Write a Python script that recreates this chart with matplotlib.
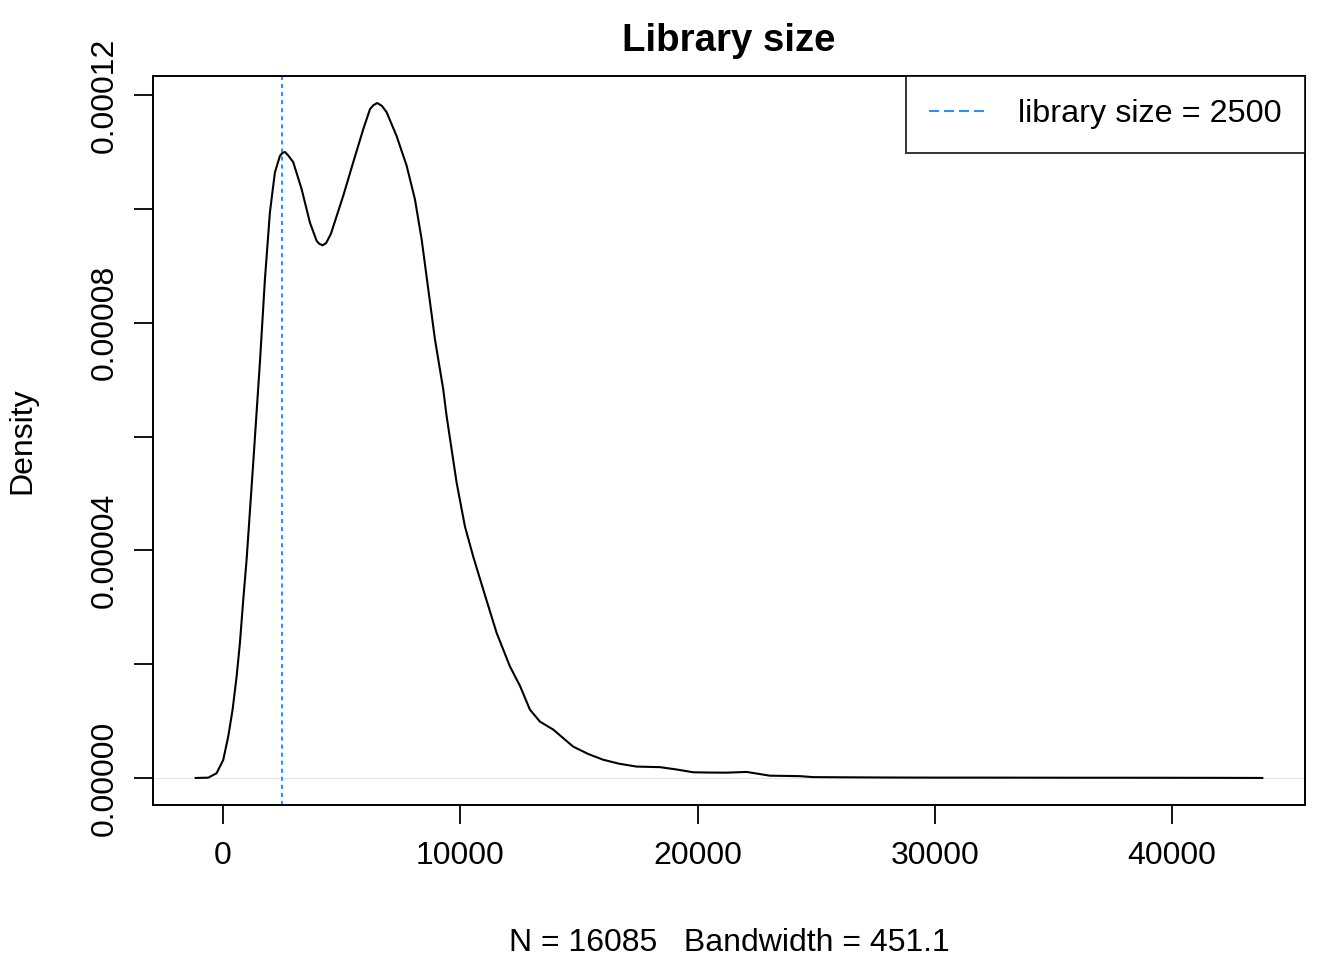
import numpy as np
import matplotlib
matplotlib.use("Agg")
import matplotlib.pyplot as plt
from matplotlib.lines import Line2D

plt.rcParams['font.family'] = ['Liberation Sans', 'DejaVu Sans']
plt.rcParams['lines.scale_dashes'] = False

# density estimate (library size, counts)
lib_size = [-1150, -619, -267, 14, 225, 408, 577, 716, 857, 999, 1278, 1559,
            1770, 1981, 2191, 2402, 2500, 2613, 2750, 2964, 3315, 3666, 3947,
            4050, 4200, 4350, 4550, 4930, 5071, 5492, 5914, 6195, 6334, 6503,
            6700, 6897, 7319, 7741, 8091, 8372, 8653, 8934, 9284, 9426, 9848,
            10198, 10548, 10970, 11533, 12094, 12516, 12937, 13359, 13919,
            14762, 15400, 16026, 16700, 17433, 18415, 19100, 19819, 20500,
            21226, 22068, 22600, 23050, 24315, 24863, 26000, 28000, 30000,
            32000, 34000, 36000, 38000, 40000, 42000, 43800]
density = [0.0, 5e-8, 8.3e-7, 3.17e-6, 7.3e-6, 1.20e-5, 1.78e-5, 2.37e-5,
           3.13e-5, 3.84e-5, 5.54e-5, 7.30e-5, 8.76e-5, 9.94e-5, 1.064e-4,
           1.093e-4, 1.098e-4, 1.100e-4, 1.094e-4, 1.082e-4, 1.035e-4,
           9.76e-5, 9.44e-5, 9.39e-5, 9.36e-5, 9.40e-5, 9.56e-5, 1.005e-4,
           1.023e-4, 1.082e-4, 1.140e-4, 1.175e-4, 1.182e-4, 1.186e-4,
           1.181e-4, 1.170e-4, 1.128e-4, 1.076e-4, 1.017e-4, 9.47e-5, 8.59e-5,
           7.71e-5, 6.83e-5, 6.36e-5, 5.19e-5, 4.42e-5, 3.89e-5, 3.31e-5,
           2.55e-5, 1.96e-5, 1.62e-5, 1.20e-5, 9.9e-6, 8.5e-6, 5.5e-6, 4.2e-6,
           3.2e-6, 2.5e-6, 2.0e-6, 1.9e-6, 1.5e-6, 1.0e-6, 9.5e-7, 9.3e-7,
           1.06e-6, 7.0e-7, 4.0e-7, 3.2e-7, 1.5e-7, 1.2e-7, 8e-8, 6e-8, 6e-8,
           5e-8, 4e-8, 4e-8, 3e-8, 2e-8, 0.0]
cutoff = 2500

x_ticks = [0, 10000, 20000, 30000, 40000]
y_ticks = [0, 2e-5, 4e-5, 6e-5, 8e-5, 1e-4, 1.2e-4]
y_labels = ["0.00000", "", "0.00004", "", "0.00008", "", "0.00012"]

fig = plt.figure(figsize=(13.44, 9.6), dpi=100)
ax = fig.add_axes([0.1138, 0.1615, 0.8572, 0.7593])

ax.axhline(0, color='#e4e4e4', lw=0.8, zorder=1)
ax.plot(lib_size, density, color='black', lw=1.5, zorder=3,
        solid_joinstyle='round')
ax.axvline(cutoff, color='#1E90FF', lw=1.4, dashes=(2.9, 2.9), zorder=2)

# R-style 4% padding on both axes
x0, x1 = min(lib_size), max(lib_size)
dx = (x1 - x0) * 0.04
ax.set_xlim(x0 - dx, x1 + dx)
y1 = max(density)
ax.set_ylim(-y1 * 0.04, y1 * 1.04)

ax.set_xticks(x_ticks)
ax.set_xticklabels([str(v) for v in x_ticks])
ax.set_yticks(y_ticks)
ax.set_yticklabels(y_labels, rotation=90, va='center')
ax.tick_params(axis='both', direction='out', length=13.7, width=1.3,
               labelsize=23)
ax.tick_params(axis='x', pad=12)
ax.tick_params(axis='y', pad=10)
for s in ax.spines.values():
    s.set_linewidth(1.4)

ax.set_title("Library size", fontsize=27.6, fontweight='bold', pad=18)
ax.set_xlabel("N = 16085   Bandwidth = 451.1", fontsize=23, labelpad=41)
ax.set_ylabel("Density", fontsize=23, labelpad=38)

handle = Line2D([], [], color='#1E90FF', lw=1.4, dashes=(7.2, 3.6))
leg = ax.legend([handle], ["library size = 2500"], loc='upper right',
                fontsize=23.3, frameon=True, fancybox=False, borderaxespad=0,
                handlelength=1.85, handletextpad=0.9, borderpad=0.72)
leg.get_frame().set_edgecolor('black')
leg.get_frame().set_linewidth(1.4)

fig.savefig("out.png", dpi=100)
